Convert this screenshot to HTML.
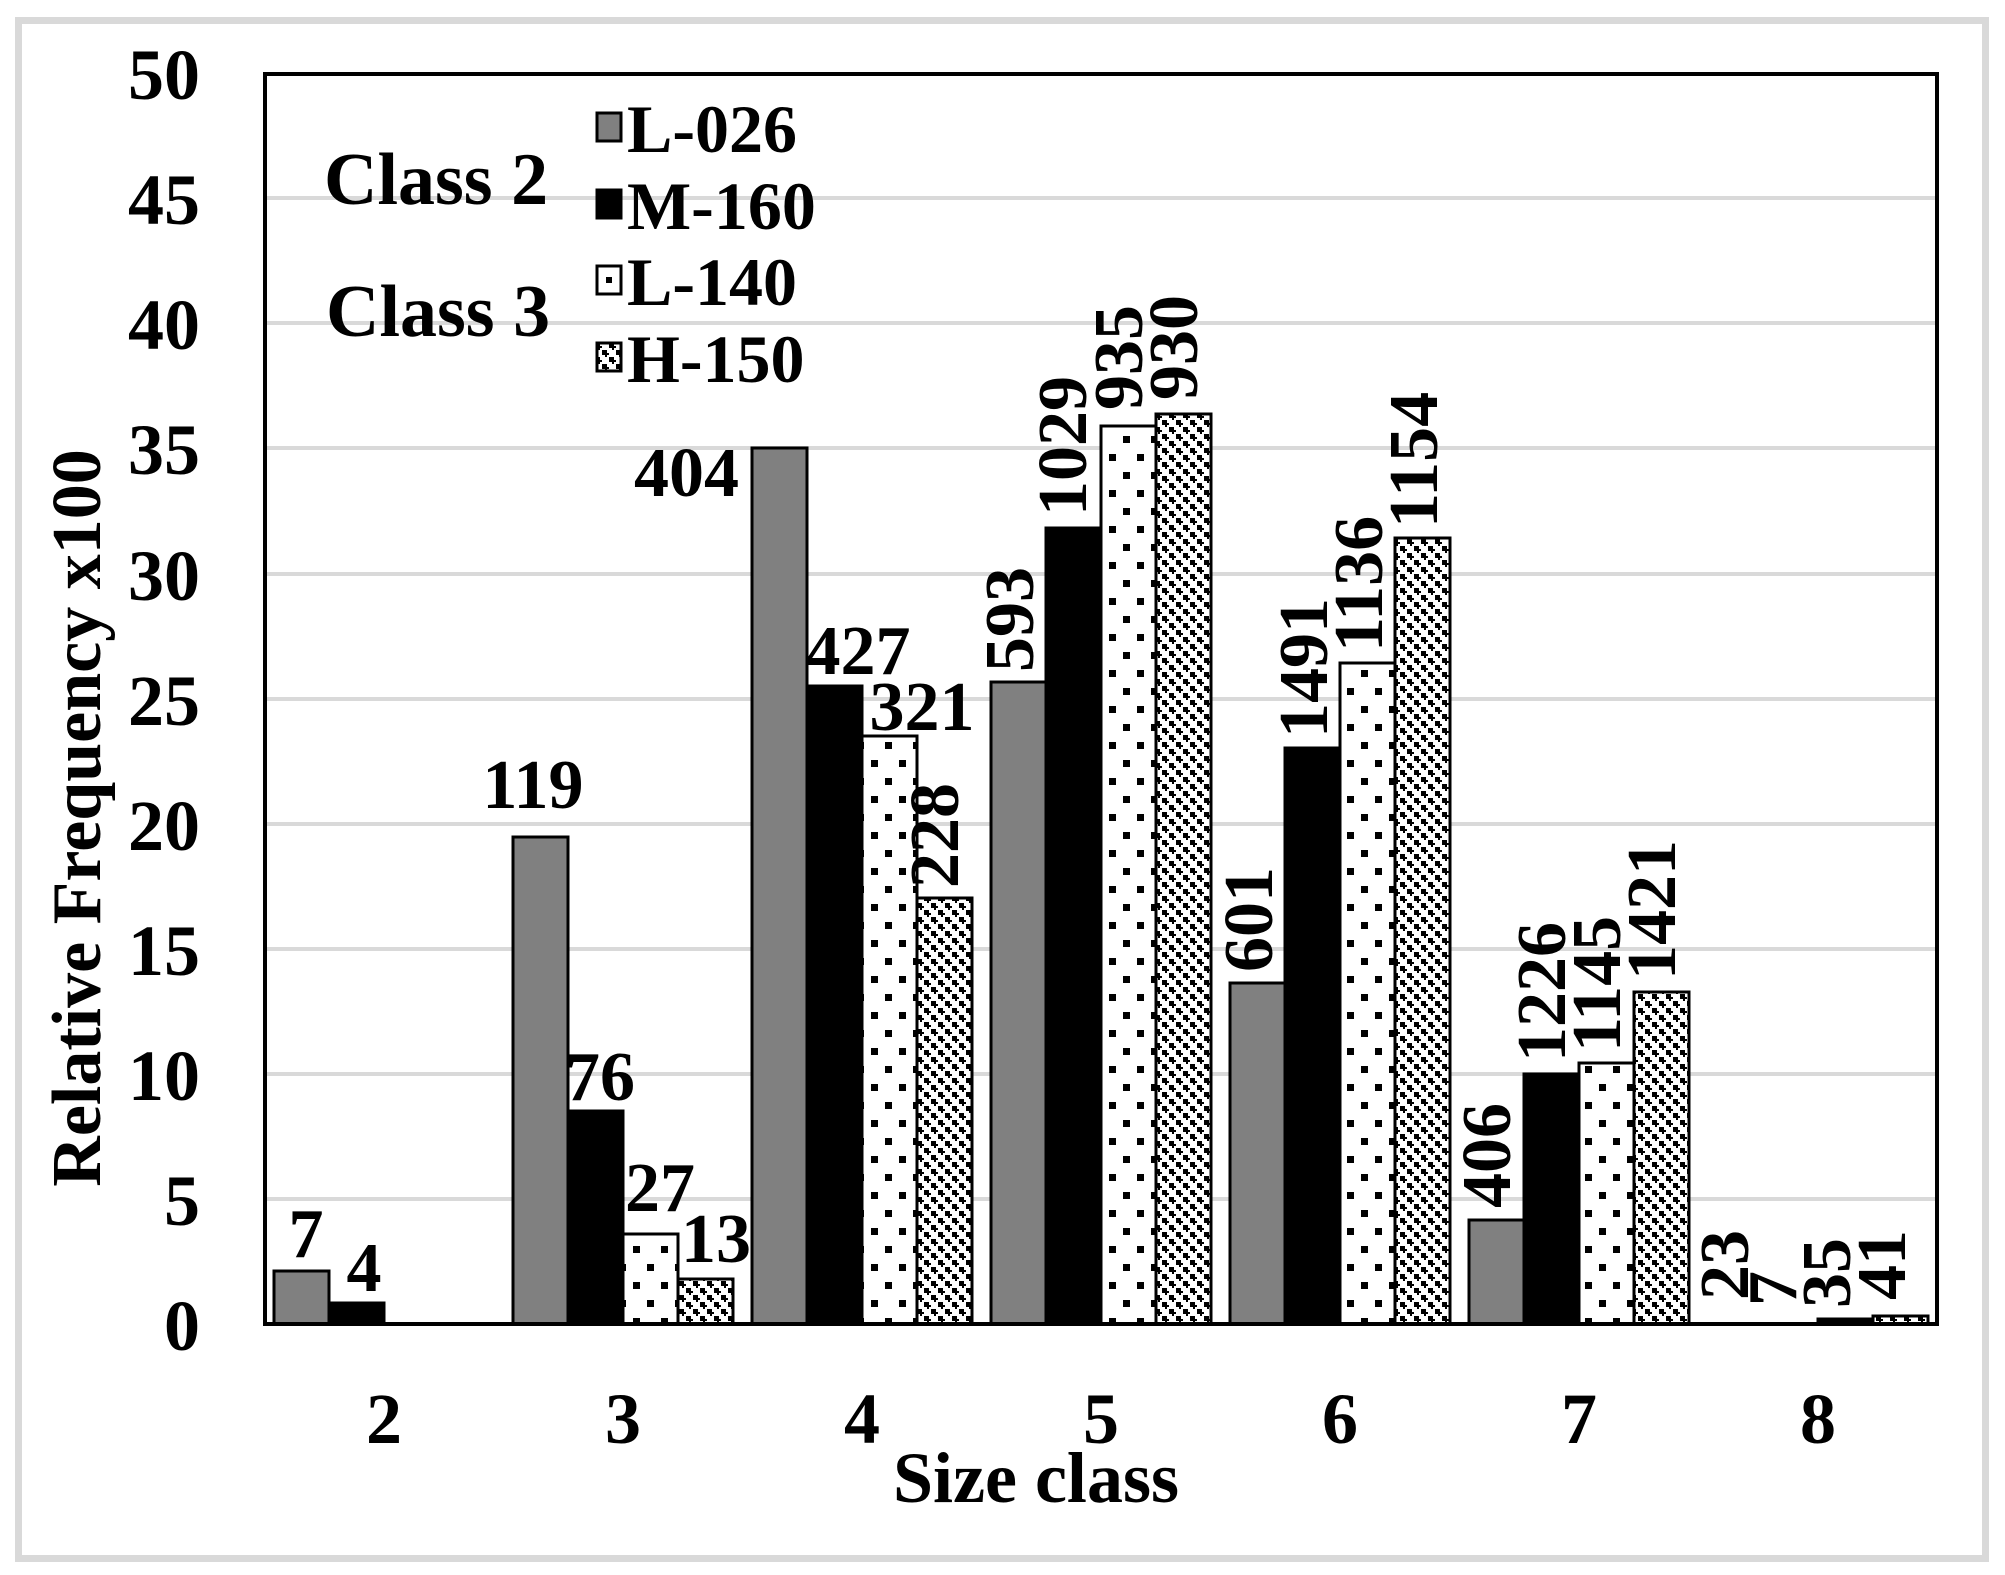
<!DOCTYPE html>
<html><head><meta charset="utf-8"><style>html,body{margin:0;padding:0;background:#fff}svg{display:block}text{font-family:"Liberation Serif",serif;font-weight:bold;fill:#000}</style></head>
<body>
<svg width="2005" height="1575" viewBox="0 0 2005 1575" xmlns="http://www.w3.org/2000/svg">
<defs>
<pattern id="dots" width="28" height="36" patternUnits="userSpaceOnUse">
<rect width="28" height="36" fill="#fff"/>
<rect x="3" y="4" width="7" height="7" fill="#000"/>
<rect x="17" y="22" width="7" height="7" fill="#000"/>
</pattern>
<pattern id="hatch" width="14" height="14" patternUnits="userSpaceOnUse">
<rect width="14" height="14" fill="#fff"/>
<rect x="0" y="0" width="5" height="5" fill="#000"/>
<rect x="7" y="7" width="5" height="5" fill="#000"/>
<rect x="5" y="3" width="2" height="2" fill="#000"/>
<rect x="12" y="10" width="2" height="2" fill="#000"/>
<rect x="3" y="5" width="2" height="2" fill="#000"/>
<rect x="10" y="12" width="2" height="2" fill="#000"/>
</pattern>
</defs>
<rect x="0" y="0" width="2005" height="1575" fill="#fff"/>
<rect x="18.5" y="20.5" width="1967" height="1538" fill="none" stroke="#d9d9d9" stroke-width="7"/>
<g stroke="#d9d9d9" stroke-width="4">
<line x1="265" x2="1937" y1="1199" y2="1199"/>
<line x1="265" x2="1937" y1="1074" y2="1074"/>
<line x1="265" x2="1937" y1="949" y2="949"/>
<line x1="265" x2="1937" y1="824" y2="824"/>
<line x1="265" x2="1937" y1="699" y2="699"/>
<line x1="265" x2="1937" y1="574" y2="574"/>
<line x1="265" x2="1937" y1="448" y2="448"/>
<line x1="265" x2="1937" y1="323" y2="323"/>
<line x1="265" x2="1937" y1="198" y2="198"/>
</g>
<g font-size="72" text-anchor="end">
<text x="200" y="1350">0</text>
<text x="200" y="1225">5</text>
<text x="200" y="1100">10</text>
<text x="200" y="975">15</text>
<text x="200" y="850">20</text>
<text x="200" y="725">25</text>
<text x="200" y="600">30</text>
<text x="200" y="474">35</text>
<text x="200" y="349">40</text>
<text x="200" y="224">45</text>
<text x="200" y="99">50</text>
</g>
<text font-size="70" text-anchor="middle" transform="translate(100,818) rotate(-90)">Relative Frequency x100</text>
<g stroke="#000" stroke-width="3">
<rect x="274" y="1271" width="55" height="53" fill="#808080"/>
<rect x="329" y="1303" width="55" height="21" fill="#000"/>
<rect x="513" y="837" width="55" height="487" fill="#808080"/>
<rect x="568" y="1111" width="55" height="213" fill="#000"/>
<rect x="623" y="1234" width="55" height="90" fill="url(#dots)"/>
<rect x="678" y="1279" width="55" height="45" fill="url(#hatch)"/>
<rect x="752" y="448" width="55" height="876" fill="#808080"/>
<rect x="807" y="686" width="55" height="638" fill="#000"/>
<rect x="862" y="736" width="55" height="588" fill="url(#dots)"/>
<rect x="917" y="898" width="55" height="426" fill="url(#hatch)"/>
<rect x="991" y="682" width="55" height="642" fill="#808080"/>
<rect x="1046" y="528" width="55" height="796" fill="#000"/>
<rect x="1101" y="426" width="55" height="898" fill="url(#dots)"/>
<rect x="1156" y="414" width="55" height="910" fill="url(#hatch)"/>
<rect x="1230" y="983" width="55" height="341" fill="#808080"/>
<rect x="1285" y="748" width="55" height="576" fill="#000"/>
<rect x="1340" y="663" width="55" height="661" fill="url(#dots)"/>
<rect x="1395" y="538" width="55" height="786" fill="url(#hatch)"/>
<rect x="1469" y="1220" width="55" height="104" fill="#808080"/>
<rect x="1524" y="1074" width="55" height="250" fill="#000"/>
<rect x="1579" y="1063" width="55" height="261" fill="url(#dots)"/>
<rect x="1634" y="992" width="55" height="332" fill="url(#hatch)"/>
<rect x="1818" y="1319" width="55" height="5" fill="#000"/>
<rect x="1873" y="1316" width="55" height="8" fill="url(#hatch)"/>
</g>
<rect x="265" y="74" width="1672" height="1250" fill="none" stroke="#000" stroke-width="4"/>
<g font-size="70" text-anchor="middle">
<text x="306" y="1257">7</text>
<text x="364" y="1291">4</text>
<text x="533" y="808">119</text>
<text x="600" y="1100">76</text>
<text x="660" y="1211">27</text>
<text x="716" y="1262">13</text>
<text x="739" y="496" text-anchor="end">404</text>
<text x="858" y="674">427</text>
<text x="922" y="730">321</text>
</g>
<g font-size="70">
<text transform="translate(958,888) rotate(-90)">228</text>
<text transform="translate(1033,672) rotate(-90)">593</text>
<text transform="translate(1086,516) rotate(-90)">1029</text>
<text transform="translate(1142,410) rotate(-90)">935</text>
<text transform="translate(1197,400) rotate(-90)">930</text>
<text transform="translate(1272,972) rotate(-90)">601</text>
<text transform="translate(1327,738) rotate(-90)">1491</text>
<text transform="translate(1382,652) rotate(-90)">1136</text>
<text transform="translate(1437,528) rotate(-90)">1154</text>
<text transform="translate(1510,1208) rotate(-90)">406</text>
<text transform="translate(1565,1062) rotate(-90)">1226</text>
<text transform="translate(1620,1052) rotate(-90)">1145</text>
<text transform="translate(1675,980) rotate(-90)">1421</text>
<text transform="translate(1748,1300) rotate(-90)">23</text>
<text transform="translate(1796,1306) rotate(-90)">7</text>
<text transform="translate(1850,1308) rotate(-90)">35</text>
<text transform="translate(1905,1300) rotate(-90)">41</text>
</g>
<g stroke="#000" stroke-width="3">
<rect x="597" y="113" width="24" height="28" fill="#808080"/>
<rect x="597" y="190" width="24" height="28" fill="#000"/>
<rect x="597" y="266" width="24" height="28" fill="#fff"/>
<rect x="597" y="343" width="24" height="28" fill="url(#hatch)"/>
</g>
<rect x="606" y="277" width="6" height="6" fill="#000"/>
<g font-size="68">
<text x="627" y="152">L-026</text>
<text x="627" y="229">M-160</text>
<text x="627" y="305">L-140</text>
<text x="627" y="382">H-150</text>
</g>
<g font-size="74">
<text x="324" y="204">Class 2</text>
<text x="326" y="336">Class 3</text>
</g>
<g font-size="72" text-anchor="middle">
<text x="384" y="1443">2</text>
<text x="623" y="1443">3</text>
<text x="862" y="1443">4</text>
<text x="1101" y="1443">5</text>
<text x="1340" y="1443">6</text>
<text x="1579" y="1443">7</text>
<text x="1818" y="1443">8</text>
<text x="1036" y="1502">Size class</text>
</g>
</svg>
</body></html>
